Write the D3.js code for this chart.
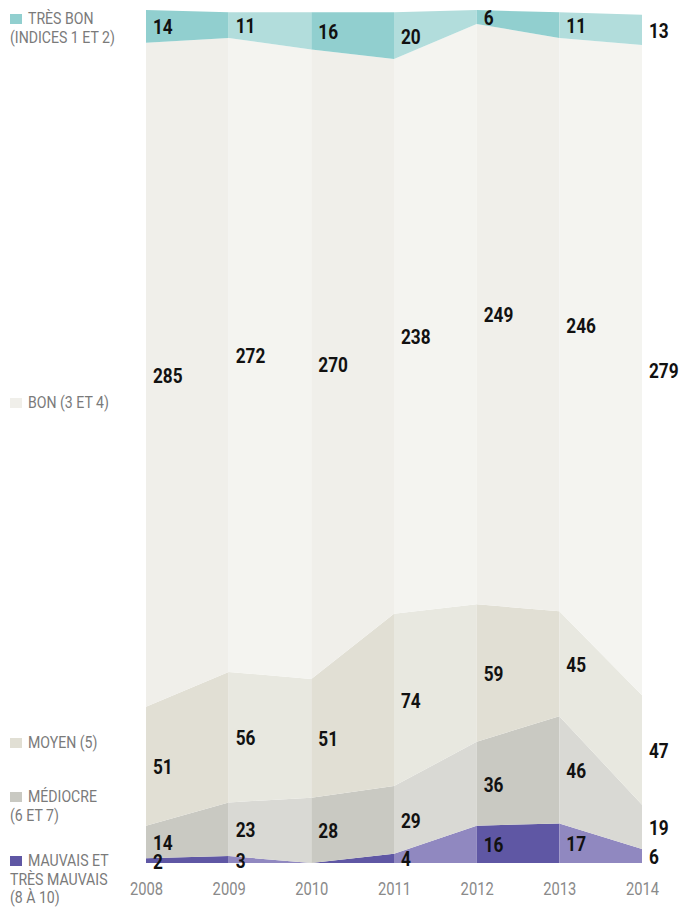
<!DOCTYPE html>
<html>
<head>
<meta charset="utf-8">
<script src="https://cdn.jsdelivr.net/npm/d3@7"></script>
<style>
  body { margin: 0; background: #fff; }
  text { font-family: Roboto, 'Liberation Sans', sans-serif; }
</style>
</head>
<body>
<div id="chart"></div>
<script>
// days per year by air quality class
const years = [2008, 2009, 2010, 2011, 2012, 2013, 2014]
const mauvais = [2, 3, 0, 4, 16, 17, 6]
const mediocre = [14, 23, 28, 29, 36, 46, 19]
const moyen = [51, 56, 51, 74, 59, 45, 47]
const bon = [285, 272, 270, 238, 249, 246, 279]
const tresBon = [14, 11, 16, 20, 6, 11, 13]

// bottom to top
const seriesKeys = ['mauvais', 'mediocre', 'moyen', 'bon', 'tresBon']
const seriesValues = { mauvais, mediocre, moyen, bon, tresBon }

const legendLines = {
  tresBon: ['TRÈS BON', '(INDICES 1 ET 2)'],
  bon: ['BON (3 ET 4)'],
  moyen: ['MOYEN (5)'],
  mediocre: ['MÉDIOCRE', '(6 ET 7)'],
  mauvais: ['MAUVAIS ET', 'TRÈS MAUVAIS', '(8 À 10)']
}

// two tones per class, alternating by column
const colors = {
  tresBon: ['#91cfcf', '#b2dddc'],
  bon: ['#f0efea', '#f4f4f0'],
  moyen: ['#e1dfd4', '#e8e8e0'],
  mediocre: ['#c9c9c2', '#d9d9d4'],
  mauvais: ['#5f57a4', '#9088c0']
}

const width = 681
const height = 907

const svg = d3.select('#chart')
  .append('svg')
  .attr('width', width)
  .attr('height', height)

const table = years.map((y, i) => {
  const row = { year: y }
  seriesKeys.forEach(k => { row[k] = seriesValues[k][i] })
  return row
})

const layers = d3.stack().keys(seriesKeys)(table)

const x = d3.scalePoint()
  .domain(years)
  .range([146, 642])

const y = d3.scaleLinear()
  .domain([0, 366])
  .range([863, 10])

const area = d3.area()
  .x(d => x(d.data.year))
  .y0(d => y(d[0]))
  .y1(d => y(d[1]))

const defs = svg.append('defs')

// one clip per column, so each column gets its own shade
d3.pairs(years).forEach(([a, b], i) => {
  defs.append('clipPath')
    .attr('id', 'col' + i)
    .append('rect')
    .attr('x', x(a))
    .attr('y', 0)
    .attr('width', x(b) - x(a))
    .attr('height', height)

  svg.append('g')
    .attr('clip-path', 'url(#col' + i + ')')
    .selectAll('path')
    .data(layers)
    .enter()
    .append('path')
    .attr('d', area)
    .attr('fill', d => colors[d.key][i % 2])
})

// no condensed face installed, so squeeze the text horizontally
function narrowText (parent, tx, ty, str, opts) {
  const g = parent.append('g').attr('transform', 'translate(' + tx + ',' + ty + ')')
  return g.append('text')
    .attr('transform', 'scale(' + opts.sx + ',1)')
    .attr('text-anchor', opts.anchor || 'start')
    .attr('dominant-baseline', 'central')
    .attr('font-size', opts.size)
    .attr('font-weight', opts.weight || 'normal')
    .attr('fill', opts.fill)
    .text(str)
}

// value labels
layers.forEach(layer => {
  layer.forEach(d => {
    const v = d[1] - d[0]
    if (v <= 0) return
    narrowText(svg, x(d.data.year) + 7, (y(d[0]) + y(d[1])) / 2 + 1, v,
      { sx: 0.82, size: 21, weight: 'bold', fill: '#111' })
  })
})

// year axis
const xAxis = svg.append('g')
  .attr('transform', 'translate(0,' + 863 + ')')
  .call(d3.axisBottom(x).tickSize(0).tickPadding(0))
xAxis.select('.domain').remove()
xAxis.selectAll('.tick text').remove()
xAxis.selectAll('.tick').each(function (d) {
  narrowText(d3.select(this), 0, 26, d, { sx: 0.82, size: 18, fill: '#8a8a8a', anchor: 'middle' })
})

// legend
const legendY = { tresBon: 19, bon: 403, moyen: 743, mediocre: 797, mauvais: 861 }
seriesKeys.forEach(k => {
  const g = svg.append('g').attr('transform', 'translate(10,' + legendY[k] + ')')
  g.append('rect')
    .attr('x', 0)
    .attr('y', -5)
    .attr('width', 12)
    .attr('height', 10)
    .attr('fill', colors[k][0])
  legendLines[k].forEach((line, j) => {
    narrowText(g, j === 0 ? 18 : 0, j * 18.5, line, { sx: 0.83, size: 17, fill: '#7a7a7a' })
  })
})
</script>
</body>
</html>
